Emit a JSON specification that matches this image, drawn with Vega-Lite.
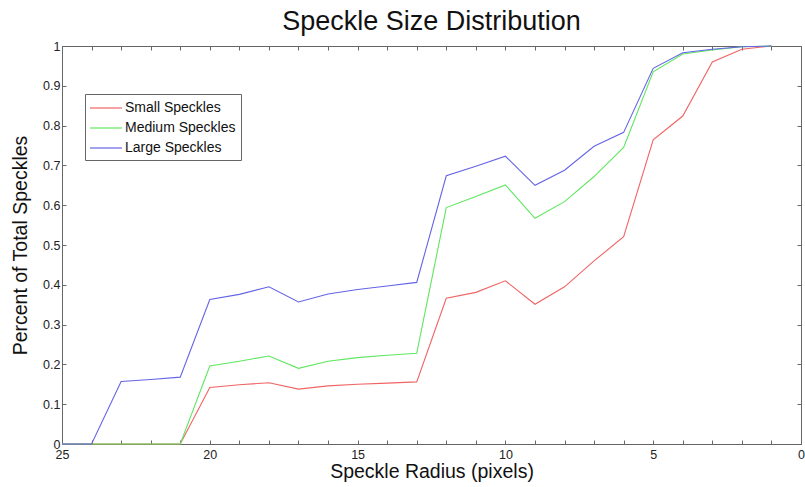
{
  "$schema": "https://vega.github.io/schema/vega-lite/v6.json",
  "autosize": {"type": "none"},
  "padding": {"left": 62, "top": 46, "right": 4, "bottom": 43},
  "width": 739,
  "height": 398,
  "background": "white",
  "title": {"text": "Speckle Size Distribution", "fontSize": 27, "font": "Liberation Sans", "fontWeight": "normal", "color": "#111", "offset": 4, "anchor": "middle"},
  "config": {
    "view": {"stroke": "#666", "strokeWidth": 1},
    "axis": {"grid": false, "domainColor": "#666", "tickColor": "#666", "labelFont": "Liberation Sans", "titleFont": "Liberation Sans", "labelColor": "#222", "titleColor": "#111", "labelFontSize": 12.5, "titleFontSize": 19.5, "titleFontWeight": "normal"}
  },
  "data": {"values": [
    {"r":25,"v":0,"s":"Small Speckles"},{"r":24,"v":0,"s":"Small Speckles"},{"r":23,"v":0,"s":"Small Speckles"},{"r":22,"v":0,"s":"Small Speckles"},{"r":21,"v":0,"s":"Small Speckles"},{"r":20,"v":0.142,"s":"Small Speckles"},{"r":19,"v":0.149,"s":"Small Speckles"},{"r":18,"v":0.154,"s":"Small Speckles"},{"r":17,"v":0.138,"s":"Small Speckles"},{"r":16,"v":0.146,"s":"Small Speckles"},{"r":15,"v":0.150,"s":"Small Speckles"},{"r":14,"v":0.153,"s":"Small Speckles"},{"r":13,"v":0.156,"s":"Small Speckles"},{"r":12,"v":0.366,"s":"Small Speckles"},{"r":11,"v":0.381,"s":"Small Speckles"},{"r":10,"v":0.410,"s":"Small Speckles"},{"r":9,"v":0.351,"s":"Small Speckles"},{"r":8,"v":0.395,"s":"Small Speckles"},{"r":7,"v":0.460,"s":"Small Speckles"},{"r":6,"v":0.521,"s":"Small Speckles"},{"r":5,"v":0.764,"s":"Small Speckles"},{"r":4,"v":0.824,"s":"Small Speckles"},{"r":3,"v":0.960,"s":"Small Speckles"},{"r":2,"v":0.992,"s":"Small Speckles"},{"r":1,"v":1.0,"s":"Small Speckles"},
    {"r":25,"v":0,"s":"Medium Speckles"},{"r":24,"v":0,"s":"Medium Speckles"},{"r":23,"v":0,"s":"Medium Speckles"},{"r":22,"v":0,"s":"Medium Speckles"},{"r":21,"v":0,"s":"Medium Speckles"},{"r":20,"v":0.196,"s":"Medium Speckles"},{"r":19,"v":0.208,"s":"Medium Speckles"},{"r":18,"v":0.221,"s":"Medium Speckles"},{"r":17,"v":0.190,"s":"Medium Speckles"},{"r":16,"v":0.208,"s":"Medium Speckles"},{"r":15,"v":0.217,"s":"Medium Speckles"},{"r":14,"v":0.223,"s":"Medium Speckles"},{"r":13,"v":0.228,"s":"Medium Speckles"},{"r":12,"v":0.594,"s":"Medium Speckles"},{"r":11,"v":0.622,"s":"Medium Speckles"},{"r":10,"v":0.651,"s":"Medium Speckles"},{"r":9,"v":0.567,"s":"Medium Speckles"},{"r":8,"v":0.609,"s":"Medium Speckles"},{"r":7,"v":0.672,"s":"Medium Speckles"},{"r":6,"v":0.745,"s":"Medium Speckles"},{"r":5,"v":0.935,"s":"Medium Speckles"},{"r":4,"v":0.980,"s":"Medium Speckles"},{"r":3,"v":0.990,"s":"Medium Speckles"},{"r":2,"v":0.998,"s":"Medium Speckles"},{"r":1,"v":1.0,"s":"Medium Speckles"},
    {"r":25,"v":0,"s":"Large Speckles"},{"r":24,"v":0,"s":"Large Speckles"},{"r":23,"v":0.157,"s":"Large Speckles"},{"r":22,"v":0.162,"s":"Large Speckles"},{"r":21,"v":0.168,"s":"Large Speckles"},{"r":20,"v":0.363,"s":"Large Speckles"},{"r":19,"v":0.376,"s":"Large Speckles"},{"r":18,"v":0.395,"s":"Large Speckles"},{"r":17,"v":0.357,"s":"Large Speckles"},{"r":16,"v":0.377,"s":"Large Speckles"},{"r":15,"v":0.388,"s":"Large Speckles"},{"r":14,"v":0.397,"s":"Large Speckles"},{"r":13,"v":0.406,"s":"Large Speckles"},{"r":12,"v":0.674,"s":"Large Speckles"},{"r":11,"v":0.698,"s":"Large Speckles"},{"r":10,"v":0.723,"s":"Large Speckles"},{"r":9,"v":0.650,"s":"Large Speckles"},{"r":8,"v":0.688,"s":"Large Speckles"},{"r":7,"v":0.748,"s":"Large Speckles"},{"r":6,"v":0.783,"s":"Large Speckles"},{"r":5,"v":0.944,"s":"Large Speckles"},{"r":4,"v":0.983,"s":"Large Speckles"},{"r":3,"v":0.992,"s":"Large Speckles"},{"r":2,"v":0.998,"s":"Large Speckles"},{"r":1,"v":1.0,"s":"Large Speckles"}
  ]},
  "resolve": {"axis": {"x": "independent", "y": "independent"}},
  "layer": [
    {
      "mark": {"type": "line", "strokeWidth": 1.1},
      "encoding": {
        "x": {"field": "r", "type": "quantitative", "scale": {"domain": [25, 0], "nice": false, "zero": false},
          "axis": {"orient": "bottom", "title": "Speckle Radius (pixels)", "values": [25,24,23,22,21,20,19,18,17,16,15,14,13,12,11,10,9,8,7,6,5,4,3,2,1,0], "labelExpr": "datum.value % 5 == 0 ? datum.label : ''", "format": "d", "tickSize": -4, "labelPadding": 8, "titlePadding": 2, "labelFlush": false}},
        "y": {"field": "v", "type": "quantitative", "scale": {"domain": [0, 1], "nice": false},
          "axis": {"orient": "left", "title": "Percent of Total Speckles", "values": [0,0.1,0.2,0.3,0.4,0.5,0.6,0.7,0.8,0.9,1], "format": "~g", "tickSize": -4, "labelPadding": 6, "titlePadding": 12, "labelFlush": false}},
        "color": {"field": "s", "type": "nominal", "sort": ["Small Speckles", "Medium Speckles", "Large Speckles"],
          "scale": {"domain": ["Small Speckles", "Medium Speckles", "Large Speckles"], "range": ["#f06464", "#60e660", "#6464e6"]},
          "legend": {"title": null, "orient": "none", "legendX": 23, "legendY": 48, "symbolType": "M-2,0H2", "symbolSize": 256, "symbolStrokeWidth": 1.2, "symbolOffset": 7, "labelFont": "Liberation Sans", "labelFontSize": 14, "labelColor": "#111", "strokeColor": "#666", "fillColor": "white", "padding": 5, "rowPadding": 4, "labelOffset": 10}}
      }
    },
    {
      "mark": {"type": "line", "opacity": 0},
      "encoding": {
        "x": {"field": "r", "type": "quantitative", "axis": {"orient": "top", "title": null, "labels": false, "values": [25,24,23,22,21,20,19,18,17,16,15,14,13,12,11,10,9,8,7,6,5,4,3,2,1,0], "tickSize": -4}},
        "y": {"field": "v", "type": "quantitative", "axis": {"orient": "right", "title": null, "labels": false, "values": [0,0.1,0.2,0.3,0.4,0.5,0.6,0.7,0.8,0.9,1], "tickSize": -4}},
        "detail": {"field": "s"}
      }
    }
  ]
}
